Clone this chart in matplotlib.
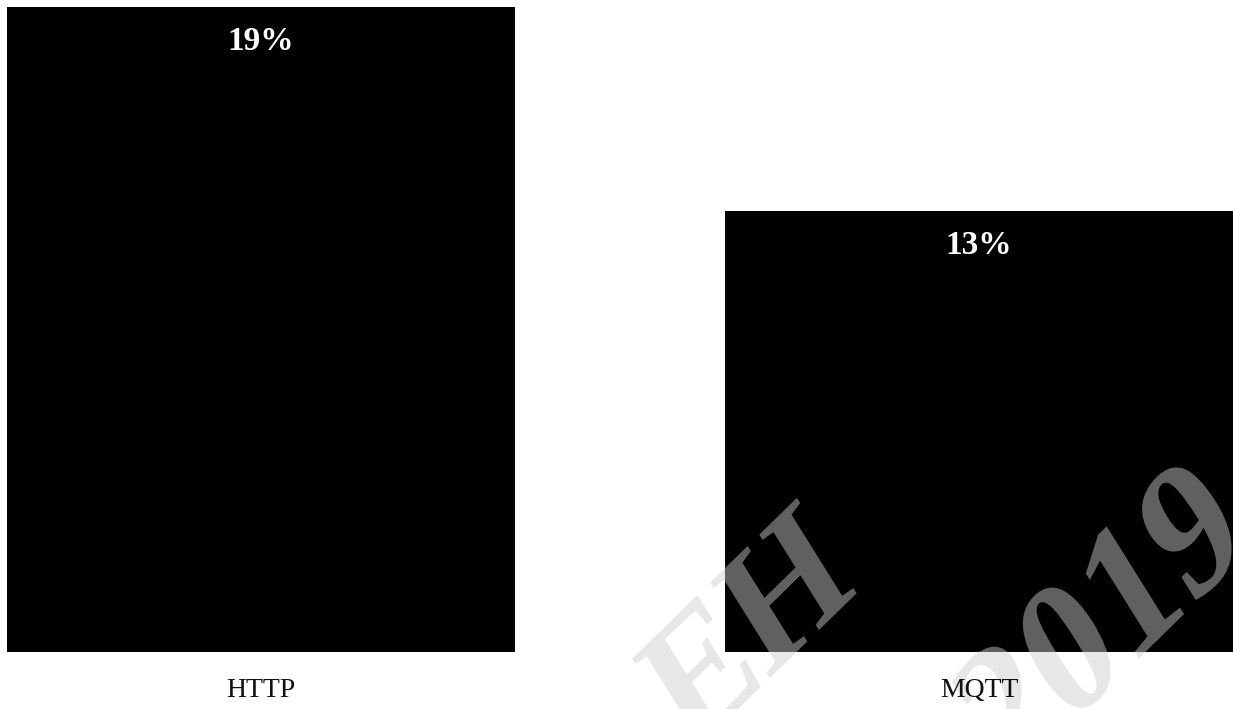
import matplotlib
matplotlib.use('Agg')
import matplotlib.pyplot as plt
from matplotlib.textpath import TextPath
from matplotlib.font_manager import FontProperties
from matplotlib.patches import PathPatch
from matplotlib.transforms import Affine2D

protocols = ['HTTP', 'MQTT']
shares = [19, 13]
value_labels = ['19%', '13%']

fig = plt.figure(figsize=(12.33, 7.09), dpi=100)
ax = fig.add_axes([0, 57 / 709, 1, 645 / 709])

ax.bar(range(len(protocols)), shares, width=0.707, color='black', zorder=1)

for i, (v, lab) in enumerate(zip(shares, value_labels)):
    ax.annotate(
        lab, xy=(i, v), xytext=(0, -35), textcoords='offset pixels',
        ha='center', va='center', color='white',
        fontsize=24, fontweight='bold', family='Liberation Serif', zorder=4,
    )

ax.set_xlim(-0.3637, 1.354)
ax.set_ylim(0, 19)
ax.set_xticks(range(len(protocols)), protocols,
              family='Liberation Serif', fontsize=20, color='#111111')
ax.tick_params(axis='x', length=0, pad=18.5)
ax.set_yticks([])
for s in ax.spines.values():
    s.set_visible(False)
ax.xaxis.set_zorder(3)

# slanted grey watermark, laid out in pixel units
wm_font = FontProperties(family='Liberation Serif', weight='bold')
px = Affine2D().scale(1 / fig.dpi) + fig.dpi_scale_trans


def watermark(text, origin, size):
    path = TextPath((0, 0), text, size=size, prop=wm_font)
    tr = Affine2D().rotate_deg(38).scale(0.8, 1).translate(*origin)
    patch = PathPatch(tr.transform_path(path), facecolor=(0.804, 0.804, 0.804, 0.47),
                      linewidth=0, transform=px, clip_on=False, zorder=2)
    ax.add_artist(patch)


watermark('EH', (690, -47), 185)
watermark('2019', (1006, -79), 195)

fig.savefig('out.png', dpi=100)
